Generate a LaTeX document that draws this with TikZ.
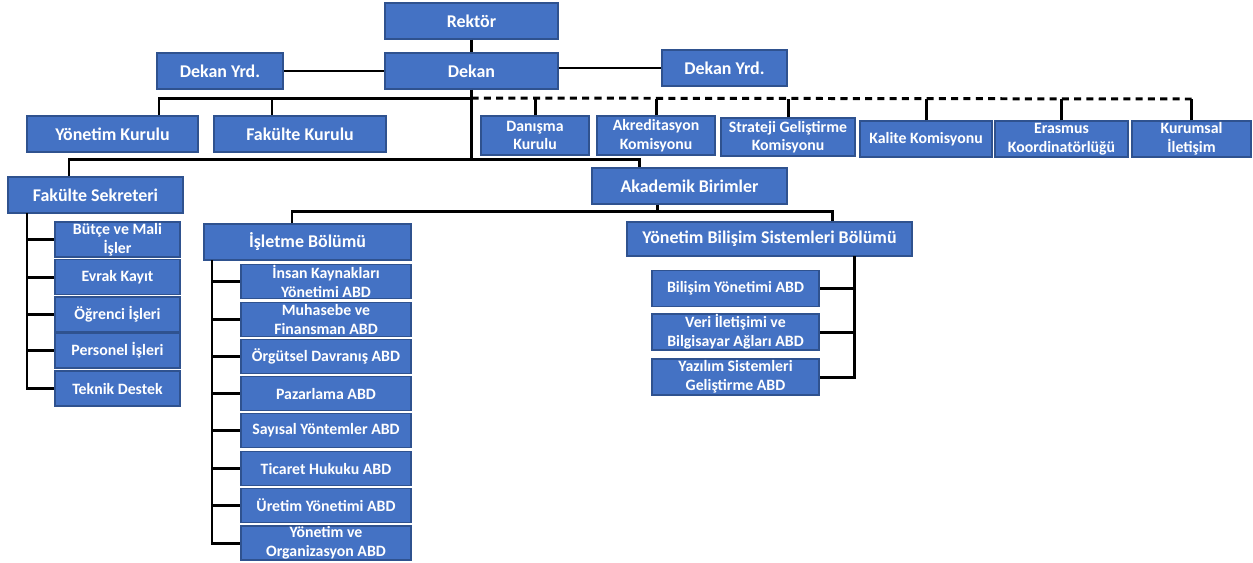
\documentclass[tikz,border=0pt]{standalone}
\usepackage{fontspec}
\newfontfamily\kutufont{Carlito}
\usepackage{tikz}
\definecolor{mavi}{HTML}{4472C4}
\definecolor{koyumavi}{HTML}{2F528F}
\tikzset{
	kutu/.style={draw=koyumavi, fill=mavi, text=white, align=center, inner sep=0pt, line width=0.8pt},
	buyuk/.style={kutu, font=\kutufont\bfseries\fontsize{10.2}{12}\selectfont},
	kucuk/.style={kutu, font=\kutufont\bfseries\fontsize{9}{10.6}\selectfont},
	boyut/.style 2 args={minimum width=#1*0.02cm, minimum height=#2*0.02cm},
	hat/.style={line width=1.7pt},
	kesik/.style={hat, dash pattern=on 4pt off 3pt}
}

\begin{document}
\begin{tikzpicture}[x=0.02cm, y=-0.02cm]
				\useasboundingbox (0,0) rectangle (1253,562);
				
				% ust kademe
				\node[buyuk, boyut={173}{36}] (rektor) at (471.5,21) {Rektör};
				\node[buyuk, boyut={173}{36}] (dekan) at (471.5,71) {Dekan};
				\node[buyuk, boyut={126}{36}] (yrd1) at (220,71) {Dekan Yrd.};
				\node[buyuk, boyut={125}{36}] (yrd2) at (724.5,68) {Dekan Yrd.};
				
				\node[buyuk, boyut={171}{36}] (yk) at (112.5,134) {Yönetim Kurulu};
				\node[buyuk, boyut={172}{36}] (fk) at (300,134) {Fakülte Kurulu};
				
				\node[kucuk, boyut={108}{39}] (danisma) at (535,135.5) {Danışma\\Kurulu};
				\node[kucuk, boyut={118}{39}] (akred) at (656,135.5) {Akreditasyon\\Komisyonu};
				\node[kucuk, boyut={134}{38}] (strateji) at (788,137) {Strateji Geliştirme\\Komisyonu};
				\node[kucuk, boyut={132}{36}] (kalite) at (926,139) {Kalite Komisyonu};
				\node[kucuk, boyut={133}{36}] (erasmus) at (1061.5,139) {Erasmus\\Koordinatörlüğü};
				\node[kucuk, boyut={119}{36}] (kurumsal) at (1191.5,139) {Kurumsal\\İletişim};
				
				\node[buyuk, boyut={175}{36}] (fs) at (95.5,195) {Fakülte Sekreteri};
				\node[buyuk, boyut={195}{36}] (ab) at (689.5,186) {Akademik Birimler};
				
				\node[buyuk, boyut={207}{36}] (isletme) at (307.5,242) {İşletme Bölümü};
				\node[buyuk, boyut={285}{34}] (ybs) at (769.5,239) {Yönetim Bilişim Sistemleri Bölümü};
				
				% fakulte sekreteri birimleri
				\node[kucuk, boyut={125}{35}] (butce) at (117.5,239.5) {Bütçe ve Mali\\İşler};
				\node[kucuk, boyut={125}{35}] (evrak) at (117.5,277) {Evrak Kayıt};
				\node[kucuk, boyut={125}{35}] (ogrenci) at (117.5,314.5) {Öğrenci İşleri};
				\node[kucuk, boyut={125}{35}] (personel) at (117.5,350.5) {Personel İşleri};
				\node[kucuk, boyut={125}{35}] (teknik) at (117.5,388.5) {Teknik Destek};
				
				% isletme anabilim dallari
				\node[kucuk, boyut={170}{34}] (ik) at (326,281.5) {İnsan Kaynakları\\Yönetimi ABD};
				\node[kucuk, boyut={170}{34}] (muhasebe) at (326,319.5) {Muhasebe ve\\Finansman ABD};
				\node[kucuk, boyut={170}{34}] (orgutsel) at (326,356.5) {Örgütsel Davranış ABD};
				\node[kucuk, boyut={170}{34}] (pazarlama) at (326,393.5) {Pazarlama ABD};
				\node[kucuk, boyut={170}{34}] (sayisal) at (326,430.5) {Sayısal Yöntemler ABD};
				\node[kucuk, boyut={170}{34}] (ticaret) at (326,468.5) {Ticaret Hukuku ABD};
				\node[kucuk, boyut={170}{34}] (uretim) at (326,505.5) {Üretim Yönetimi ABD};
				\node[kucuk, boyut={170}{34}] (yonorg) at (326,543) {Yönetim ve\\Organizasyon ABD};
				
				% ybs anabilim dallari
				\node[kucuk, boyut={167}{36}] (bilisim) at (735.5,288.5) {Bilişim Yönetimi ABD};
				\node[kucuk, boyut={167}{36}] (veri) at (735.5,332) {Veri İletişimi ve\\Bilgisayar Ağları ABD};
				\node[kucuk, boyut={167}{36}] (yazilim) at (735.5,377) {Yazılım Sistemleri\\Geliştirme ABD};
				
				% baglantilar
				\coordinate (k1) at (159,98);
				\coordinate (k2) at (272,98);
				\coordinate (q) at (1191.5,99);
				\coordinate (s1) at (69,159);
				\coordinate (s2) at (639,159);
				\coordinate (a0) at (657,211);
				\coordinate (a1) at (292,211);
				\coordinate (a2) at (832,211);
				\coordinate (f0) at (27,213);
				\coordinate (i0) at (212,260);
				\coordinate (y0) at (854,256);
				
				\draw[hat] (rektor) -- (dekan);
				\draw[hat] (yrd1) -- (dekan);
				\draw[hat] (dekan.east |- yrd2.west) -- (yrd2.west);
				
				\draw[hat] (k1 |- yk.north) -- (k1) -- (dekan.south |- k1);
				\draw[hat] (k2) -- (k2 |- fk.north);
				\draw[hat] (dekan.south) -- (dekan.south |- s1);
				\draw[hat] (s1 |- fs.north) -- (s1) -- (s2) -- (s2 |- ab.north);
				
				\draw[kesik] (dekan.south |- k1) -- (q);
				\draw[hat] (danisma.north) -- (danisma.north |- q);
				\draw[hat] (akred.north) -- (akred.north |- q);
				\draw[hat] (strateji.north) -- (strateji.north |- q);
				\draw[hat] (kalite.north) -- (kalite.north |- q);
				\draw[hat] (erasmus.north) -- (erasmus.north |- q);
				\draw[hat] (kurumsal.north) -- (q);
				
				\draw[hat] (a0 |- ab.south) -- (a0);
				\draw[hat] (a1 |- isletme.north) -- (a1) -- (a2) -- (a2 |- ybs.north);
				
				\draw[hat] (f0) -- (f0 |- teknik.west) -- (teknik.west);
				\draw[hat] (f0 |- butce.west) -- (butce.west);
				\draw[hat] (f0 |- evrak.west) -- (evrak.west);
				\draw[hat] (f0 |- ogrenci.west) -- (ogrenci.west);
				\draw[hat] (f0 |- personel.west) -- (personel.west);
				
				\draw[hat] (i0) -- (i0 |- yonorg.west) -- (yonorg.west);
				\draw[hat] (i0 |- ik.west) -- (ik.west);
				\draw[hat] (i0 |- muhasebe.west) -- (muhasebe.west);
				\draw[hat] (i0 |- orgutsel.west) -- (orgutsel.west);
				\draw[hat] (i0 |- pazarlama.west) -- (pazarlama.west);
				\draw[hat] (i0 |- sayisal.west) -- (sayisal.west);
				\draw[hat] (i0 |- ticaret.west) -- (ticaret.west);
				\draw[hat] (i0 |- uretim.west) -- (uretim.west);
				
				\draw[hat] (y0) -- (y0 |- yazilim.east) -- (yazilim.east);
				\draw[hat] (y0 |- bilisim.east) -- (bilisim.east);
				\draw[hat] (y0 |- veri.east) -- (veri.east);
			\end{tikzpicture}
\end{document}
